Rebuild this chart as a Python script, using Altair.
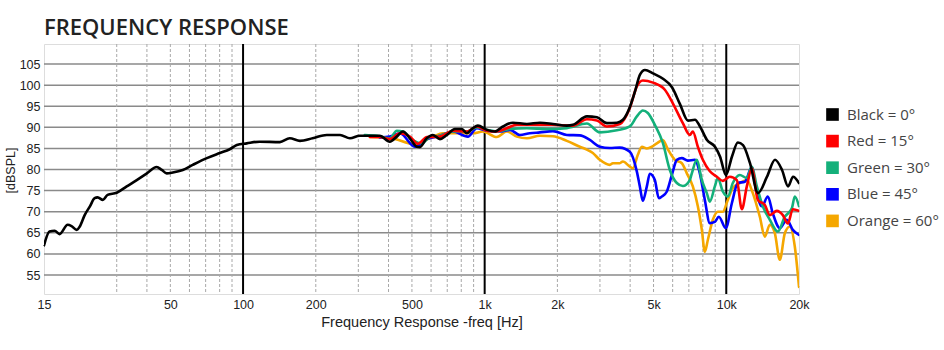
import altair as alt
import pandas as pd

series_names = ["Black = 0°", "Red = 15°", "Green = 30°", "Blue = 45°", "Orange = 60°"]
series_colors = ["#000000", "#ff0000", "#14b07a", "#0000ff", "#f5a700"]

black_freq = [15, 15.8, 16.6, 17.4, 18.8, 19.5, 20.5, 21.1, 22.1, 23.2, 24.3, 25.0, 26.3, 27.5, 30, 33, 36.3, 40, 43.9, 46.1,
              48.3, 51.2, 56.3, 61.9, 70.8, 80.1, 88.1, 94.2, 103.6, 117, 142, 156, 172, 194, 222, 252, 277, 304, 368, 405,
              433, 459, 490, 524, 539, 576, 610, 653, 698, 753, 805, 844, 894, 937, 1022, 1102, 1189, 1309, 1496, 1693,
              1917, 2190, 2319, 2650, 2916, 3207, 3528, 3735, 3995, 4190, 4394, 4608, 4974, 5471, 5961, 6433, 6942, 7422, 7785, 8322,
              8979, 9420, 9975, 10561, 11170, 11730, 12537, 13536, 14744, 15913, 17013, 18017, 18900, 20000]
black_db = [62.0, 65.3, 65.5, 64.7, 66.9, 66.6, 65.7, 66.5, 69.2, 71.2, 73.2, 73.4, 72.8, 74.0, 74.5, 76.0, 77.5, 79.1, 80.6, 79.9,
            79.1, 79.3, 79.9, 81.1, 82.7, 83.9, 84.8, 85.8, 86.2, 86.6, 86.5, 87.4, 86.8, 87.4, 88.2, 88.2, 87.4, 88.0, 88.0, 86.6,
            87.8, 89.0, 87.4, 85.4, 85.3, 87.4, 88.2, 87.2, 88.2, 89.6, 89.6, 88.6, 89.8, 90.4, 89.4, 89.0, 90.2, 91.1, 90.8, 91.1,
            90.8, 90.4, 90.6, 92.6, 92.4, 91.0, 91.1, 91.8, 94.9, 98.5, 102.5, 103.6, 102.8, 101.5, 99.5, 95.5, 91.6, 91.8, 90.2, 87.0,
            85.4, 83.1, 78.7, 83.1, 86.4, 85.8, 81.5, 74.4, 78.3, 82.3, 79.9, 76.0, 78.3, 76.8]

red_freq = [335, 368, 405, 446, 490, 529, 577, 653, 739, 844, 928, 1021, 1123, 1235, 1359, 1583, 1917, 2318, 2649, 2913,
            3206, 3627, 3989, 4265, 4515, 4973, 5569, 6009, 6610, 7066, 7271, 7626, 7998, 8550, 9140, 9677, 10345, 11059, 11599, 12165,
            12759, 13508, 14441, 15146, 16192, 17143, 17980, 18857, 20000]
red_db = [87.7, 87.7, 87.2, 88.6, 87.8, 86.1, 87.7, 87.8, 89.2, 89.0, 90.2, 89.2, 89.0, 89.8, 90.6, 90.6, 90.6, 90.4, 91.9, 91.6,
          90.2, 90.8, 94.6, 99.7, 101.1, 100.6, 98.9, 95.7, 91.0, 88.2, 89.0, 85.4, 82.3, 79.6, 78.3, 77.3, 78.3, 77.5, 70.6, 76.0,
          80.3, 72.8, 71.6, 69.2, 70.2, 69.2, 67.2, 70.6, 70.2]

green_freq = [319, 358, 405, 433, 459, 505, 550, 593, 653, 739, 844, 928, 1021, 1123, 1271, 1496, 1808, 2188, 2648, 2997,
              3525, 3989, 4265, 4515, 4736, 5062, 5464, 5840, 6243, 6610, 7066, 7202, 7554, 7923, 8309, 8550, 8967, 9227, 9677, 10149,
              10645, 11379, 12165, 12759, 13381, 14168, 15146, 16346, 17474, 18681, 19221, 20000]
green_db = [88.2, 88.0, 87.4, 89.2, 89.0, 87.0, 86.2, 87.7, 88.0, 89.0, 89.0, 90.0, 89.4, 89.0, 89.6, 89.8, 89.6, 89.8, 90.9, 88.8,
            89.3, 90.2, 92.6, 94.0, 93.4, 90.6, 86.3, 79.9, 76.8, 76.1, 77.5, 79.1, 82.3, 77.5, 74.4, 72.4, 76.0, 78.0, 74.8, 73.6,
            76.8, 78.7, 78.0, 80.7, 76.0, 71.3, 68.1, 65.3, 68.8, 70.8, 73.6, 71.3]

blue_freq = [368, 405, 446, 514, 577, 653, 739, 852, 928, 1021, 1156, 1271, 1398, 1538, 1692, 1917, 2188, 2477, 2725, 2997, 3297,
             3627, 3989, 4265, 4388, 4515, 4691, 4827, 5062, 5259, 5411, 5677, 5953, 6243, 6548, 6932, 7411, 7773, 8152, 8550, 8967,
             9316, 9958, 10545, 11164, 11935, 12759, 13381, 14035, 14859, 15584, 16661, 17811, 18857, 20000]
blue_db = [87.6, 87.8, 88.6, 85.4, 87.2, 88.0, 89.0, 87.8, 89.8, 89.2, 89.0, 89.4, 88.2, 88.6, 88.8, 89.1, 88.2, 88.1, 87.0, 85.4, 85.1,
           85.2, 84.2, 79.5, 76.0, 72.6, 76.0, 79.0, 77.5, 73.2, 73.6, 74.8, 78.7, 82.3, 82.7, 82.1, 82.3, 79.1, 72.8, 67.3, 67.6,
           68.8, 66.1, 72.0, 76.8, 77.1, 80.5, 74.4, 71.3, 73.6, 69.6, 66.1, 68.1, 65.7, 64.5]

orange_freq = [335, 405, 514, 611, 672, 767, 894, 983, 1123, 1235, 1359, 1496, 1692, 1917, 2188, 2477, 2648, 2804, 2997, 3297,
               3393, 3627, 3732, 3989, 4105, 4305, 4473, 4692, 4920, 5160, 5464, 5729, 6125, 6548, 6868, 7271, 7626, 7923, 8152, 8388,
               8797, 9227, 9677, 10149, 10645, 11379, 12165, 12879, 13769, 14441, 15146, 15885, 16661, 17474, 18327, 19221, 20000]
orange_db = [87.7, 87.5, 86.0, 87.8, 88.6, 88.6, 88.6, 89.0, 87.7, 89.0, 87.8, 87.4, 88.0, 87.9, 86.8, 85.4, 84.7, 83.9, 82.3, 81.1,
             81.5, 81.5, 81.9, 80.7, 80.3, 83.5, 85.4, 85.0, 85.4, 86.2, 87.0, 84.8, 82.3, 81.5, 79.1, 76.0, 71.3, 65.7, 60.5, 63.3,
             68.1, 70.0, 70.0, 72.8, 75.6, 76.8, 77.5, 74.4, 68.8, 64.1, 66.9, 64.9, 58.6, 64.9, 66.5, 61.7, 52.2]

x_tick_values = [15, 50, 100, 200, 500, 1000, 2000, 5000, 10000, 20000]
y_tick_values = [55, 60, 65, 70, 75, 80, 85, 90, 95, 100, 105]
minor_freq_lines = [30, 40, 50, 60, 70, 80, 90, 200, 300, 400, 500, 600, 700, 800, 900,
                    2000, 3000, 4000, 5000, 6000, 7000, 8000, 9000]
major_freq_lines = [100, 1000, 10000]

all_freq = [black_freq, red_freq, green_freq, blue_freq, orange_freq]
all_db = [black_db, red_db, green_db, blue_db, orange_db]
rows = []
for name, fr, db in zip(series_names, all_freq, all_db):
    for f, d in zip(fr, db):
        rows.append({"series": name, "freq": f, "db": d})
df = pd.DataFrame(rows)

x_scale = alt.Scale(type="log", domain=[15, 20000], nice=False)
y_scale = alt.Scale(domain=[50.5, 109.75], nice=False, zero=False)

axis_font = "Liberation Sans"
x_axis = alt.Axis(values=x_tick_values, grid=False, ticks=False, domain=False, labelFlush=False,
                  labelExpr="datum.value >= 1000 ? (datum.value / 1000) + 'k' : '' + datum.value",
                  labelFont=axis_font, labelFontSize=12.5, labelColor="#222", labelPadding=4,
                  title="Frequency Response -freq [Hz]", titleFont=axis_font, titleFontSize=14.5,
                  titleFontWeight="normal", titleColor="#222", titleY=32, titleBaseline="alphabetic")
y_axis = alt.Axis(values=y_tick_values, grid=False, ticks=False, domain=False,
                  labelFont=axis_font, labelFontSize=12.5, labelColor="#222", labelPadding=4,
                  title="[dBSPL]", titleFont=axis_font, titleFontSize=12.5, titleFontWeight="normal",
                  titleColor="#222", titleAngle=270, titleX=-34, titleY=126,
                  titleAlign="center", titleBaseline="middle")

hgrid = alt.Chart(pd.DataFrame({"db": y_tick_values})).mark_rule(color="#8a8a8a", strokeWidth=1.5).encode(
    y=alt.Y("db:Q", scale=y_scale, axis=y_axis))
minor = alt.Chart(pd.DataFrame({"freq": minor_freq_lines})).mark_rule(
    color="#a8a8a8", strokeWidth=1, strokeDash=[3, 2]).encode(
    x=alt.X("freq:Q", scale=x_scale, axis=x_axis))
major = alt.Chart(pd.DataFrame({"freq": major_freq_lines})).mark_rule(
    color="#000000", strokeWidth=2).encode(
    x=alt.X("freq:Q", scale=x_scale, axis=x_axis))

legend_layer = alt.Chart(df).mark_point(filled=True, shape="square", size=1, opacity=1).encode(
    x=alt.X("freq:Q", scale=x_scale, axis=x_axis),
    y=alt.Y("db:Q", scale=y_scale, axis=y_axis),
    fill=alt.Fill("series:N", scale=alt.Scale(domain=series_names, range=series_colors),
                  legend=alt.Legend(title=None, orient="none", legendX=781, legendY=63, symbolType="square",
                                    symbolSize=160, symbolStrokeWidth=0, labelFont="Open Sans",
                                    labelFontSize=15, labelColor="#444", rowPadding=10.6, labelOffset=7,
                                    padding=0, symbolOpacity=1)),
)

line_layers = []
for name in reversed(series_names):
    line_layers.append(
        alt.Chart(df).transform_filter(alt.datum.series == name).mark_line(
            strokeWidth=2.6, interpolate="monotone", clip=True, strokeJoin="round", strokeCap="round").encode(
            x=alt.X("freq:Q", scale=x_scale, axis=x_axis),
            y=alt.Y("db:Q", scale=y_scale, axis=y_axis),
            stroke=alt.Stroke("series:N", scale=alt.Scale(domain=series_names, range=series_colors), legend=None),
        )
    )

chart = alt.layer(hgrid, minor, major, legend_layer, *line_layers).properties(
    width=755, height=250,
    padding={"left": 44, "top": 44, "right": 145, "bottom": 56},
    autosize=alt.AutoSizeParams(type="none"),
    title=alt.TitleParams("FREQUENCY RESPONSE", anchor="start", frame="group", font="Open Sans",
                          fontSize=22, fontWeight=600, color="#222", offset=10, dy=24, baseline="alphabetic"),
).configure_view(stroke="#000000", strokeWidth=2).configure(background="white")

chart.save("out.html", embed_options={"renderer": "svg", "actions": False})
